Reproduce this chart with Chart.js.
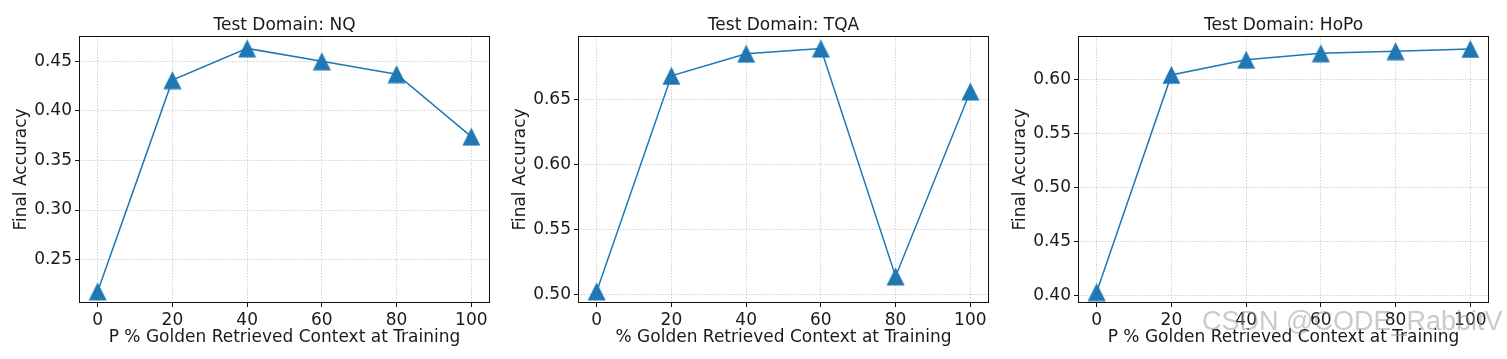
<!DOCTYPE html>
<html>
<head>
<meta charset="utf-8">
<script src="https://cdn.jsdelivr.net/npm/chart.js@4.4.1/dist/chart.umd.min.js"></script>
<style>
  html, body { margin: 0; padding: 0; background: #fff; }
  body { width: 1507px; height: 359px; position: relative; overflow: hidden; }
  .panel { position: absolute; top: 0; width: 500px; height: 359px; }
  .wm { position: absolute; left: 1202px; top: 308px; font-family: "Liberation Sans", sans-serif;
        font-size: 27px; line-height: 27px; color: rgba(150,150,150,0.5); white-space: nowrap; pointer-events: none; }
</style>
</head>
<body>
<div class="panel" style="left:0px"><canvas id="c1" width="500" height="359"></canvas></div>
<div class="panel" style="left:499px"><canvas id="c2" width="500" height="359"></canvas></div>
<div class="panel" style="left:999px"><canvas id="c3" width="500" height="359"></canvas></div>
<div class="wm">CSDN @CODE_RabbitV</div>
<script>
// ---- data ----
const xValues = [0, 20, 40, 60, 80, 100];
const xTicks = [0, 20, 40, 60, 80, 100];

const nqAccuracy = [0.218, 0.431, 0.463, 0.450, 0.437, 0.374];
const tqaAccuracy = [0.5025, 0.668, 0.685, 0.689, 0.514, 0.656];
const hopoAccuracy = [0.403, 0.604, 0.618, 0.624, 0.626, 0.628];

const nqTicks = [0.25, 0.30, 0.35, 0.40, 0.45];
const tqaTicks = [0.50, 0.55, 0.60, 0.65];
const hopoTicks = [0.40, 0.45, 0.50, 0.55, 0.60];

const titles = ["Test Domain: NQ", "Test Domain: TQA", "Test Domain: HoPo"];
const xLabels = ["P % Golden Retrieved Context at Training",
                 "% Golden Retrieved Context at Training",
                 "P % Golden Retrieved Context at Training"];
const yLabel = "Final Accuracy";

// ---- styling ----
const FONT = "'DejaVu Sans', sans-serif";
const FS = 17;
const BLUE = "#1f77b4";
const TEXT = "#1a1a1a";

// matplotlib-like '^' marker (isosceles, centred on its bounding box)
function makeTriangle(size) {
  const c = document.createElement('canvas');
  c.width = size; c.height = size;
  const g = c.getContext('2d');
  g.fillStyle = BLUE;
  g.beginPath();
  g.moveTo(size / 2, 0.5);
  g.lineTo(size - 0.5, size - 0.5);
  g.lineTo(0.5, size - 0.5);
  g.closePath();
  g.fill();
  return c;
}
const triangle = makeTriangle(19);

const framePlugin = {
  id: 'frame',
  afterDatasetsDraw(chart) {
    const a = chart.chartArea, ctx = chart.ctx;
    ctx.save();
    ctx.strokeStyle = '#111';
    ctx.lineWidth = 1;
    ctx.strokeRect(Math.round(a.left) + 0.5, Math.round(a.top) + 0.5,
                   Math.round(a.right - a.left) - 1, Math.round(a.bottom - a.top) - 1);
    ctx.restore();
  }
};

function makeChart(id, values, yTicks, yMin, yMax, title, xLabel) {
  const ctx = document.getElementById(id).getContext('2d');
  return new Chart(ctx, {
    type: 'line',
    data: {
      datasets: [{
        data: xValues.map((x, i) => ({x: x, y: values[i]})),
        borderColor: BLUE,
        backgroundColor: BLUE,
        borderWidth: 1.5,
        pointStyle: triangle,
        pointRadius: 10,
        pointHoverRadius: 10,
        tension: 0,
        clip: false
      }]
    },
    options: {
      responsive: false,
      animation: false,
      devicePixelRatio: 1,
      layout: { autoPadding: false, padding: { left: 0, right: 10, top: 0, bottom: 0 } },
      plugins: {
        legend: { display: false },
        tooltip: { enabled: false },
        title: {
          display: true, text: title, color: TEXT, fullSize: false,
          font: { family: FONT, size: FS, weight: 'normal', lineHeight: 1.2 },
          padding: { top: 15, bottom: 0.6 }
        }
      },
      scales: {
        x: {
          type: 'linear', min: -5, max: 105,
          afterBuildTicks: s => { s.ticks = xTicks.map(v => ({value: v})); },
          afterFit: s => { s.height = 56; },
          ticks: { color: TEXT, font: { family: FONT, size: FS }, padding: 3,
                   callback: v => String(v), maxRotation: 0, autoSkip: false },
          grid: { color: 'rgba(160,160,160,0.6)', lineWidth: 0.8, drawTicks: true, tickLength: 4,
                  tickColor: '#111', tickWidth: 1, tickBorderDash: [] },
          border: { display: false, dash: [1.5, 1.5] },
          title: { display: true, text: xLabel, color: TEXT,
                   font: { family: FONT, size: FS, lineHeight: 1.2 }, padding: { top: 0, bottom: 11.1 } }
        },
        y: {
          type: 'linear', min: yMin, max: yMax,
          afterBuildTicks: s => { s.ticks = yTicks.map(v => ({value: v})); },
          afterFit: s => { s.width = 79; },
          ticks: { color: TEXT, font: { family: FONT, size: FS }, padding: 3,
                   callback: v => Number(v).toFixed(2), autoSkip: false },
          grid: { color: 'rgba(160,160,160,0.6)', lineWidth: 0.8, drawTicks: true, tickLength: 4,
                  tickColor: '#111', tickWidth: 1, tickBorderDash: [] },
          border: { display: false, dash: [1.5, 1.5] },
          title: { display: true, text: yLabel, color: TEXT,
                   font: { family: FONT, size: FS, lineHeight: 1.2 }, padding: { top: 11.5, bottom: 0 } }
        }
      }
    },
    plugins: [framePlugin]
  });
}

makeChart('c1', nqAccuracy, nqTicks, 0.2063, 0.4755, titles[0], xLabels[0]);
makeChart('c2', tqaAccuracy, tqaTicks, 0.4936, 0.6986, titles[1], xLabels[1]);
makeChart('c3', hopoAccuracy, hopoTicks, 0.3929, 0.6400, titles[2], xLabels[2]);
</script>
</body>
</html>
